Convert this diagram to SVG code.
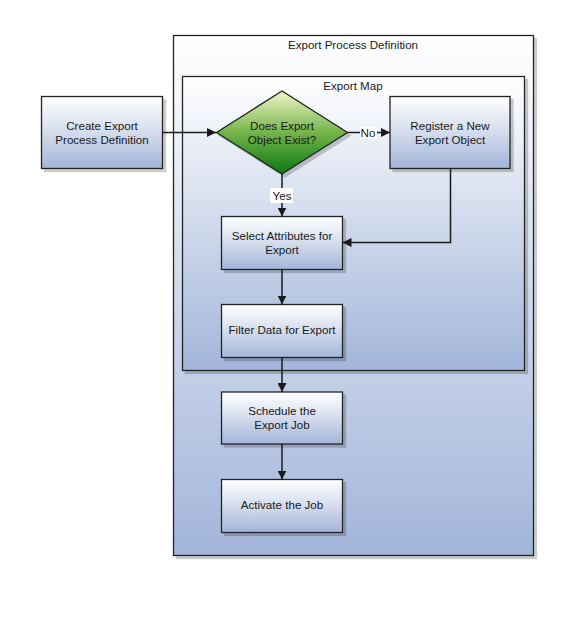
<svg xmlns="http://www.w3.org/2000/svg" width="576" height="624" viewBox="0 0 576 624">
<defs>
<linearGradient id="gCont" x1="0" y1="0" x2="0" y2="1">
<stop offset="0" stop-color="#ffffff"/>
<stop offset="1" stop-color="#a2b5da"/>
</linearGradient>
<linearGradient id="gBox" x1="0" y1="0" x2="0" y2="1">
<stop offset="0" stop-color="#ffffff"/>
<stop offset="0.5" stop-color="#d4dcec"/>
<stop offset="1" stop-color="#a2b5da"/>
</linearGradient>
<linearGradient id="gDia" x1="0" y1="0" x2="0" y2="1">
<stop offset="0" stop-color="#f2f7c8"/>
<stop offset="0.5" stop-color="#74b44a"/>
<stop offset="1" stop-color="#0a7a10"/>
</linearGradient>
<marker id="arr" viewBox="0 0 10 10" refX="10" refY="5" markerWidth="9" markerHeight="9" markerUnits="userSpaceOnUse" orient="auto">
<path d="M0,0 L10,5 L0,10 z" fill="#1a1a1a"/>
</marker>
<filter id="sh" x="-10%" y="-10%" width="130%" height="130%">
<feOffset dx="3" dy="3" in="SourceAlpha" result="o"/>
<feColorMatrix in="o" type="matrix" values="0 0 0 0 0  0 0 0 0 0  0 0 0 0 0  0 0 0 0.2 0" result="c"/>
<feMerge><feMergeNode in="c"/><feMergeNode in="SourceGraphic"/></feMerge>
</filter>
</defs>
<style>
text { font-family: "Liberation Sans", Arial, sans-serif; font-size: 11.6px; fill: #1a1a1a; text-anchor: middle; }
.box { fill: url(#gBox); stroke: #222; stroke-width: 1.3; filter: url(#sh); }
.cont { fill: url(#gCont); stroke: #222; stroke-width: 1.3; filter: url(#sh); }
.edge { fill: none; stroke: #1a1a1a; stroke-width: 1.5; }
.lbl { fill: #ffffff; stroke: none; }
</style>

<g id="export-process-definition">
<rect class="cont" x="173.5" y="35.5" width="360" height="520"/>
<text x="353" y="49">Export Process Definition</text>
</g>
<g id="export-map">
<rect class="cont" x="182.5" y="76.5" width="342" height="294"/>
<text x="353" y="90">Export Map</text>
</g>

<g id="create">
<rect class="box" x="41.5" y="96.5" width="121" height="72"/>
<text x="102" y="130">Create Export</text>
<text x="102" y="144">Process Definition</text>
</g>
<g id="decision">
<polygon points="282,91 347.5,132.5 282,174 216.5,132.5" fill="url(#gDia)" stroke="#222" stroke-width="1.3" filter="url(#sh)"/>
<text x="282" y="130">Does Export</text>
<text x="282" y="144">Object Exist?</text>
</g>
<g id="register">
<rect class="box" x="390" y="96.5" width="120" height="72"/>
<text x="450" y="130">Register a New</text>
<text x="450" y="144">Export Object</text>
</g>
<g id="select">
<rect class="box" x="221.5" y="216.5" width="121" height="53"/>
<text x="282" y="240">Select Attributes for</text>
<text x="282" y="254">Export</text>
</g>
<g id="filter">
<rect class="box" x="221.5" y="304.5" width="121" height="53"/>
<text x="282" y="334">Filter Data for Export</text>
</g>
<g id="schedule">
<rect class="box" x="221.5" y="392" width="121" height="52"/>
<text x="282" y="415">Schedule the</text>
<text x="282" y="429">Export Job</text>
</g>
<g id="activate">
<rect class="box" x="221.5" y="479.5" width="121" height="53"/>
<text x="282" y="509">Activate the Job</text>
</g>

<g id="connectors">
<path class="edge" d="M162.5,132.5 H216" marker-end="url(#arr)"/>
<path class="edge" d="M347.5,132.5 H390" marker-end="url(#arr)"/>
<rect class="lbl" x="360" y="126" width="17" height="13"/>
<text x="368" y="137">No</text>
<path class="edge" d="M282,174 V216.5" marker-end="url(#arr)"/>
<rect class="lbl" x="270" y="188" width="23" height="15"/>
<text x="282" y="200">Yes</text>
<path class="edge" d="M450.5,168.5 V242.5 H342.5" marker-end="url(#arr)"/>
<path class="edge" d="M282,269.5 V304.5" marker-end="url(#arr)"/>
<path class="edge" d="M282,357.5 V392" marker-end="url(#arr)"/>
<path class="edge" d="M282,444 V479.5" marker-end="url(#arr)"/>
</g>
</svg>
